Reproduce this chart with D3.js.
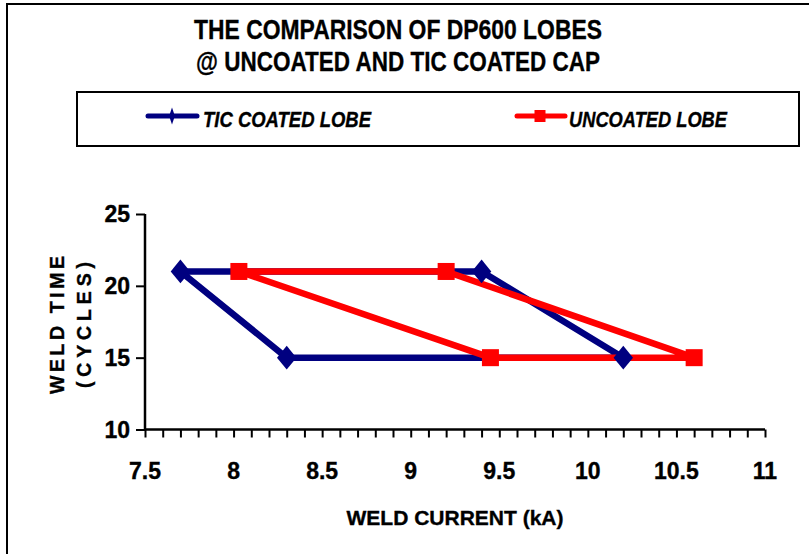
<!DOCTYPE html>
<html>
<head>
<meta charset="utf-8">
<script src="https://cdn.jsdelivr.net/npm/d3@7"></script>
<style>
  html, body { margin: 0; padding: 0; background: #fff; }
  svg { display: block; }
  text { font-family: "Liberation Sans", Arial, sans-serif; font-weight: bold; fill: #000; stroke: #000; stroke-width: 0.35px; }
</style>
</head>
<body>
<svg id="chart" width="809" height="554"></svg>
<script>
// ---- data ----
const titleLines = ["THE COMPARISON OF DP600 LOBES", "@ UNCOATED AND TIC COATED CAP"];
const seriesNames = ["TIC COATED LOBE", "UNCOATED LOBE"];
const ticCurrent = [7.7, 9.4, 10.2, 8.3, 7.7];
const ticTime = [21, 21, 15, 15, 21];
const uncCurrent = [8.03, 9.2, 10.6, 9.45, 8.03];
const uncTime = [21, 21, 15, 15, 21];
const xTicks = [7.5, 8, 8.5, 9, 9.5, 10, 10.5, 11];
const yTicks = [10, 15, 20, 25];
const xTitle = "WELD CURRENT (kA)";
const yTitle = ["WELD TIME", "(CYCLES)"];

const svg = d3.select("#chart");

// outer frame (extends beyond the visible area on right/bottom)
svg.append("rect").attr("x", 7).attr("y", 4).attr("width", 830).attr("height", 600)
  .attr("fill", "none").attr("stroke", "#000").attr("stroke-width", 2);

// title
const tl = [[38.5, 408], [70.5, 404]];
titleLines.forEach((t, i) => {
  svg.append("text").attr("x", 398).attr("y", tl[i][0]).attr("text-anchor", "middle")
    .attr("font-size", 27).attr("textLength", tl[i][1]).attr("lengthAdjust", "spacingAndGlyphs")
    .text(t);
});

// legend
svg.append("rect").attr("x", 77).attr("y", 92).attr("width", 722).attr("height", 54)
  .attr("fill", "#fff").attr("stroke", "#000").attr("stroke-width", 2);

const colors = ["#000080", "#FF0000"];
const legendX = [[148, 197, 172, 203, 168], [517, 565, 540, 569, 158]];
seriesNames.forEach((name, i) => {
  const L = legendX[i];
  svg.append("line").attr("x1", L[0]).attr("x2", L[1]).attr("y1", 116).attr("y2", 116)
    .attr("stroke", colors[i]).attr("stroke-width", 5).attr("stroke-linecap", "round");
  if (i === 0) {
    svg.append("path").attr("d", d3.symbol().type(d3.symbolDiamond).size(45)())
      .attr("transform", `translate(${L[2]},116) scale(0.8,1.35)`).attr("fill", colors[i]);
  } else {
    svg.append("rect").attr("x", L[2] - 5.5).attr("y", 110).attr("width", 11).attr("height", 12)
      .attr("fill", colors[i]);
  }
  svg.append("text").attr("x", L[3]).attr("y", 126.5).attr("font-size", 21.5).attr("font-style", "italic")
    .attr("textLength", L[4]).attr("lengthAdjust", "spacingAndGlyphs").text(name);
});

// scales
const x = d3.scaleLinear().domain([7.5, 11]).range([145, 765]);
const y = d3.scaleLinear().domain([10, 25]).range([429.5, 214]);

// x axis with minor ticks
const minor = d3.range(75, 111, 1).map(v => v / 10);
const gx = svg.append("g").attr("transform", `translate(0,${y(10)})`)
  .call(d3.axisBottom(x).tickValues(minor).tickSize(8).tickFormat(""));
gx.select(".domain").attr("stroke-width", 2.5).attr("d", `M${x(7.5)},0H${x(11)}`);
gx.selectAll(".tick line").attr("stroke-width", 2);
xTicks.forEach(v => {
  svg.append("text").attr("x", x(v)).attr("y", 478.5).attr("text-anchor", "middle")
    .attr("font-size", 23).text(v);
});

// y axis
const gy = svg.append("g").attr("transform", `translate(${x(7.5)},0)`)
  .call(d3.axisLeft(y).tickValues(yTicks).tickSize(9).tickFormat(""));
gy.select(".domain").attr("stroke-width", 2.5).attr("d", `M0,${y(10)}V${y(25)}`);
gy.selectAll(".tick line").attr("stroke-width", 2);
yTicks.forEach(v => {
  svg.append("text").attr("x", 130).attr("y", y(v)).attr("dy", "0.36em").attr("text-anchor", "end")
    .attr("font-size", 23).text(v);
});

// axis titles
svg.append("text").attr("x", 455).attr("y", 524.5).attr("text-anchor", "middle")
  .attr("font-size", 21).attr("textLength", 217).attr("lengthAdjust", "spacingAndGlyphs").text(xTitle);
const yt = [[64, 138], [91, 126]];
yTitle.forEach((t, i) => {
  svg.append("text").attr("transform", `translate(${yt[i][0]},325) rotate(-90)`)
    .attr("text-anchor", "middle").attr("font-size", 19.5)
    .attr("textLength", yt[i][1]).attr("lengthAdjust", "spacing").text(t);
});

// series
const series = [
  { xs: ticCurrent, ys: ticTime, color: colors[0], marker: "diamond" },
  { xs: uncCurrent, ys: uncTime, color: colors[1], marker: "square" }
];
const line = d3.line().x(d => x(d[0])).y(d => y(d[1]));
series.forEach(s => {
  const pts = s.xs.map((v, i) => [v, s.ys[i]]);
  svg.append("path").attr("d", line(pts)).attr("fill", "none").attr("stroke", s.color)
    .attr("stroke-width", 6.5).attr("stroke-linejoin", "round");
});
series.forEach(s => {
  const pts = s.xs.map((v, i) => [v, s.ys[i]]).slice(0, 4);
  pts.forEach(p => {
    if (s.marker === "diamond") {
      svg.append("path").attr("d", d3.symbol().type(d3.symbolDiamond).size(180)())
        .attr("transform", `translate(${x(p[0])},${y(p[1])}) scale(1.35,0.95)`).attr("fill", s.color);
    } else {
      svg.append("rect").attr("x", x(p[0]) - 8.5).attr("y", y(p[1]) - 8.5)
        .attr("width", 17).attr("height", 17).attr("fill", s.color);
    }
  });
});
</script>
</body>
</html>
